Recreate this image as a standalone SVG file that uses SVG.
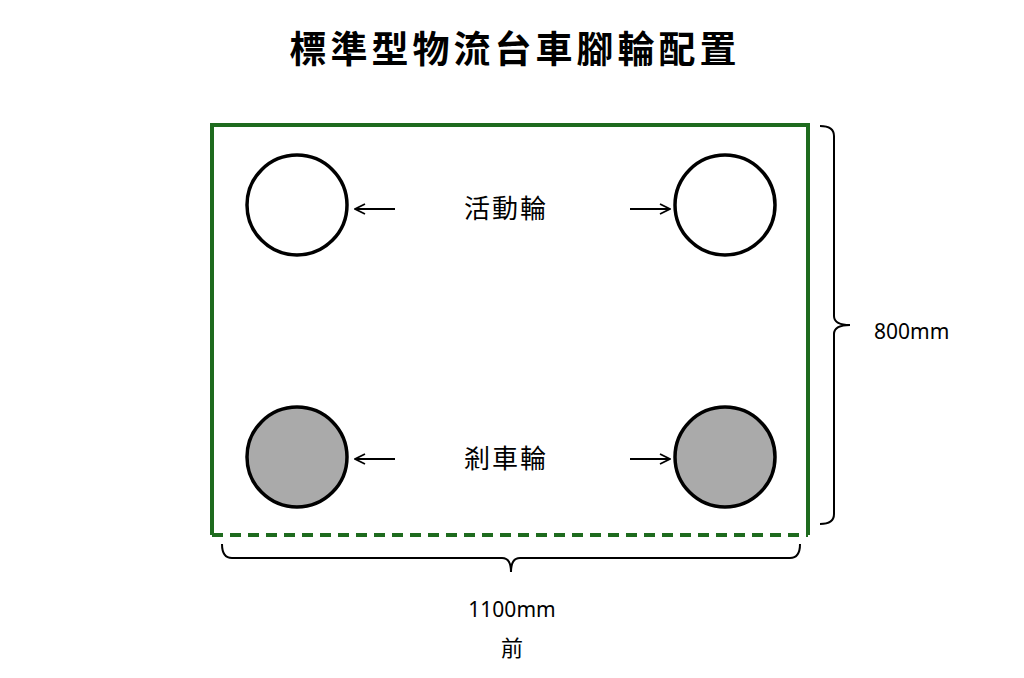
<svg xmlns="http://www.w3.org/2000/svg" width="1024" height="678" viewBox="0 0 1024 678">
<defs>
<style>
.wheel{stroke:#000;stroke-width:3.5}
.free{fill:#fff}
.brake{fill:#aaaaaa}
.arrow{stroke:#000;stroke-width:1.8;fill:none}
.brace{stroke:#000;stroke-width:2;fill:none}
.lbl{font-family:"Noto Sans CJK TC","Noto Sans CJK JP",sans-serif;font-size:26px;fill:#000;text-anchor:middle;letter-spacing:2px}
.dim{font-family:"Noto Sans","Liberation Sans",sans-serif;font-size:21px;fill:#000}
.frame{stroke:#1e6b1e;stroke-width:4;fill:none}
</style>
<marker id="ah" viewBox="0 0 12 12" refX="11" refY="6" markerWidth="12" markerHeight="12" markerUnits="userSpaceOnUse" orient="auto">
<path d="M1,1 L11,6 L1,11" fill="none" stroke="#000" stroke-width="1.8"/>
</marker>
</defs>
<rect width="1024" height="678" fill="#fff"/>
<text x="515" y="63" font-family="'Noto Sans CJK TC','Noto Sans CJK JP',sans-serif" font-size="37" font-weight="bold" text-anchor="middle" letter-spacing="4">標準型物流台車腳輪配置</text>
<g id="frame">
<path class="frame" d="M212,535 L212,125 L808,125 L808,535"/>
<path class="frame" d="M212,535 L808,535" stroke-dasharray="11,7"/>
</g>
<g id="wheel-tl"><circle class="wheel free" cx="297" cy="205" r="50"/></g>
<g id="wheel-tr"><circle class="wheel free" cx="725" cy="205" r="50"/></g>
<g id="wheel-bl"><circle class="wheel brake" cx="297" cy="457" r="50"/></g>
<g id="wheel-br"><circle class="wheel brake" cx="725" cy="457" r="50"/></g>
<g id="label-free"><text class="lbl" x="506" y="218">活動輪</text></g>
<g id="label-brake"><text class="lbl" x="506" y="468">剎車輪</text></g>
<g id="connectors">
<line class="arrow" x1="395" y1="209" x2="355" y2="209" marker-end="url(#ah)"/>
<line class="arrow" x1="630" y1="209" x2="670" y2="209" marker-end="url(#ah)"/>
<line class="arrow" x1="395" y1="459" x2="355" y2="459" marker-end="url(#ah)"/>
<line class="arrow" x1="630" y1="459" x2="670" y2="459" marker-end="url(#ah)"/>
</g>
<g id="dim-height">
<path class="brace" d="M820,126 Q834,126 834,136 L834,316 Q834,325 850,325 Q834,325 834,334 L834,514 Q834,524 820,524"/>
<text class="dim" x="874" y="339">800mm</text>
</g>
<g id="dim-width">
<path class="brace" d="M222,544 Q222,558 232,558 L502,558 Q511,558 511,572 Q511,558 520,558 L790,558 Q800,558 800,544"/>
<text class="dim" x="512" y="617" text-anchor="middle">1100mm</text>
<text class="lbl" x="512" y="656" font-size="22" style="font-size:22px;letter-spacing:0">前</text>
</g>
</svg>
